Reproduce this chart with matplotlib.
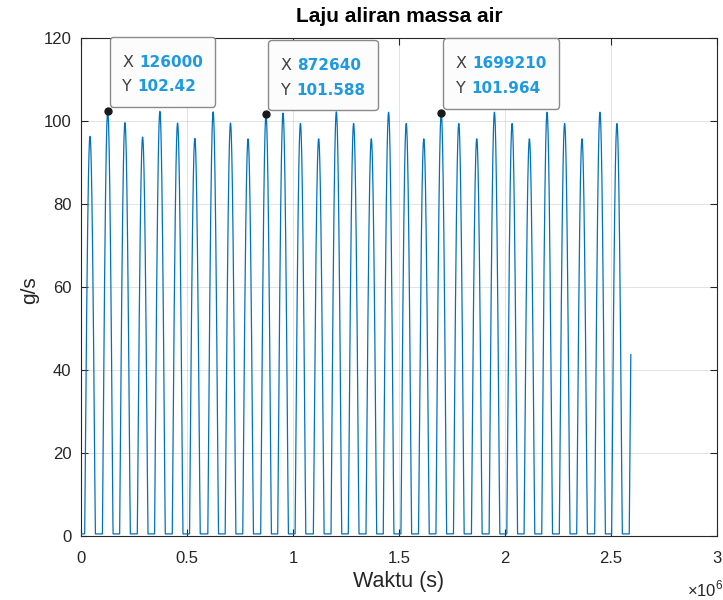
import numpy as np
import matplotlib
matplotlib.use("Agg")
import matplotlib.pyplot as plt
from matplotlib.offsetbox import TextArea, HPacker, VPacker, AnnotationBbox, DrawingArea

plt.rcParams['font.family'] = ['Liberation Sans', 'DejaVu Sans']
plt.rcParams['mathtext.fontset'] = 'custom'
plt.rcParams['mathtext.rm'] = 'Liberation Sans'

# ---- data ----
peak_times = [42400, 126000, 207300, 290600, 372100, 455500, 537000, 623200,
              705100, 788000, 872640, 952900, 1034900, 1121000, 1204400,
              1285900, 1369300, 1450800, 1534100, 1617000, 1699210, 1781900,
              1866700, 1950100, 2033500, 2115000, 2198300, 2281200, 2363200,
              2448000, 2528000, 2611000]
peak_values = [96.3, 102.42, 99.6, 96.1, 102.3, 99.5, 95.8, 102.2, 99.5, 95.7,
               101.588, 101.9, 99.4, 95.7, 102.2, 99.4, 95.7, 102.1, 99.4, 95.7,
               101.964, 99.4, 95.7, 102.1, 99.4, 95.7, 102.1, 99.4, 95.7, 102.1,
               99.4, 95.7]
baseline_flow = 0.5          # g/s between pulses
pulse_width = 50000          # s, width of each daily pulse at its base
data_end = 2593500           # s, last sample

tip_x = [126000, 872640, 1699210]
tip_y = [102.42, 101.588, 101.964]
tip_xtext = ['126000', '872640', '1699210']
tip_ytext = ['102.42', '101.588', '101.964']

xticks = [0, 0.5e6, 1e6, 1.5e6, 2e6, 2.5e6, 3e6]
xtick_labels = ['0', '0.5', '1', '1.5', '2', '2.5', '3']
yticks = [0, 20, 40, 60, 80, 100, 120]

# ---- build the curve from the pulse list ----
t = np.linspace(0, data_end, 300000)
y = np.full_like(t, baseline_flow)
for tp, vp in zip(peak_times, peak_values):
    start = tp - pulse_width / 2
    m = (t >= start) & (t <= start + pulse_width)
    y[m] = np.maximum(y[m], baseline_flow + (vp - baseline_flow) *
                      np.sin(np.pi * (t[m] - start) / pulse_width))

fig = plt.figure(figsize=(7.23, 6.0), dpi=100)
ax = fig.add_axes([81 / 723, 64 / 600, 636 / 723, 498 / 600])

txt = '#262626'
ax.plot(t, y, color='#0072BD', lw=0.9, zorder=3)
ax.plot(tip_x, tip_y, 'o', color='#1a1a1a', ms=5, zorder=5)

ax.set_xlim(0, 3e6)
ax.set_ylim(0, 120)
ax.set_xticks(xticks)
ax.set_xticklabels(xtick_labels)
ax.set_yticks(yticks)
ax.grid(True, color='#262626', alpha=0.13, lw=0.7)
ax.set_axisbelow(True)
ax.tick_params(direction='in', top=True, right=True, length=5, width=0.8,
               colors=txt, labelsize=12)
ax.tick_params(axis='x', pad=11)
ax.tick_params(axis='y', pad=7)
for s in ax.spines.values():
    s.set_color(txt)
    s.set_linewidth(0.8)

fig.text((81 + 717) / 2 / 723, 1 - 17 / 600, 'Laju aliran massa air',
         ha='center', va='center', fontsize=15, fontweight='bold', color='#000000')
fig.text(399 / 723, 1 - 582 / 600, 'Waktu (s)', ha='center', va='center',
         fontsize=15.5, color=txt)
fig.text(30 / 723, 1 - 290 / 600, 'g/s', ha='center', va='center',
         fontsize=15, color=txt, rotation=90)
fig.text(705 / 723, 1 - 589 / 600, r'$\times10^{6}$', ha='center', va='center',
         fontsize=12, color=txt)

blue = '#1f9ae0'
for xv, yv, xs, ys in zip(tip_x, tip_y, tip_xtext, tip_ytext):
    lab = dict(color='#404040', fontsize=11.5, family='DejaVu Sans')
    val = dict(color=blue, fontsize=11, fontweight='bold', family='DejaVu Sans')
    r1 = HPacker(children=[TextArea('X', textprops=lab), TextArea(xs, textprops=val)],
                 sep=4, align='baseline', pad=0)
    r2 = HPacker(children=[TextArea('Y', textprops=lab), TextArea(ys, textprops=val)],
                 sep=4, align='baseline', pad=0)
    inner = VPacker(children=[r1, r2], sep=7, align='left', pad=0)
    box = VPacker(children=[DrawingArea(1, 4), inner], sep=0, align='left', pad=9)
    ab = AnnotationBbox(box, (xv, yv), xybox=(1.5, 3.0), xycoords='data',
                        boxcoords='offset points', box_alignment=(0, 0),
                        frameon=True, pad=0, zorder=6,
                        bboxprops=dict(boxstyle='round,pad=0,rounding_size=0.25',
                                       fc='#fcfcfc', ec='#8a8a8a', lw=1.0))
    ax.add_artist(ab)

fig.savefig('out.png', dpi=100)
